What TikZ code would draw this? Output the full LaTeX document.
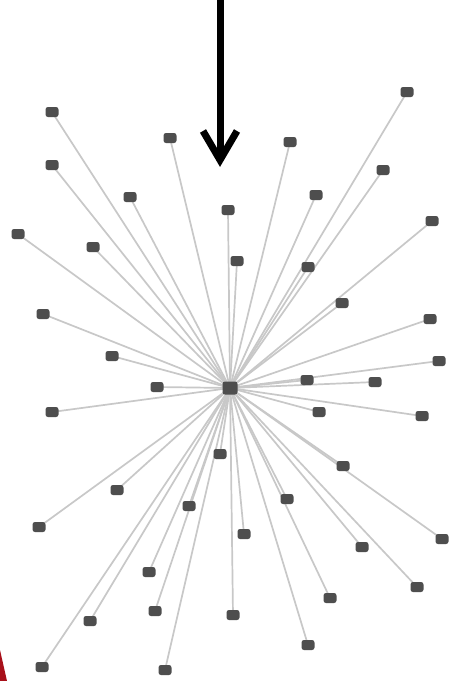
\documentclass[tikz,border=0pt]{standalone}
\usetikzlibrary{backgrounds}
\definecolor{nodegray}{HTML}{4E4E4E}
\definecolor{edgegray}{HTML}{C8C8C8}
\definecolor{cornerred}{HTML}{A8101A}
\begin{document}
\begin{tikzpicture}[x=1pt,y=-1pt,
  vertex/.style={rectangle,rounded corners=2.5pt,fill=nodegray,minimum width=13pt,minimum height=10pt,inner sep=0pt},
  hub/.style={vertex,minimum width=15pt,minimum height=13pt},
  edge/.style={draw=edgegray,line width=1.7pt},
  pointer/.style={draw=black,line width=7pt,line cap=butt,line join=miter}]
\useasboundingbox (0,0) rectangle (471,681);
\node[hub] (c) at (230,388) {};
\foreach \i/\x/\y in {1/52/112,2/170/138,3/290/142,4/407/92,5/52/165,6/130/197,7/228/210,8/316/195,9/383/170,10/432/221,
  11/18/234,12/93/247,13/237/261,14/308/267,15/342/303,16/43/314,17/430/319,18/112/356,19/439/361,20/157/387,
  21/307/380,22/375/382,23/52/412,24/319/412,25/422/416,26/220/454,27/343/466,28/117/490,29/189/506,30/287/499,
  31/39/527,32/244/534,33/442/539,34/362/547,35/149/572,36/417/587,37/330/598,38/155/611,39/233/615,40/90/621,
  41/308/645,42/42/667,43/165/670}
  {\node[vertex] (n\i) at (\x,\y) {};}
\begin{pgfonlayer}{background}
  \fill[white] (0,0) rectangle (471,681);
  \foreach \i in {1,...,43} {\draw[edge] (c.center) -- (n\i.center);}
\end{pgfonlayer}
\fill[cornerred] (0,650) -- (7,681) -- (0,681) -- cycle;
\coordinate (atop) at (220,0);
\coordinate (atip) at (220,160);
\coordinate (aleft) at (203,131);
\coordinate (aright) at (237,131);
\draw[pointer] (atop) -- (atip);
\draw[pointer] (aleft) -- (atip) -- (aright);
\end{tikzpicture}
\end{document}
